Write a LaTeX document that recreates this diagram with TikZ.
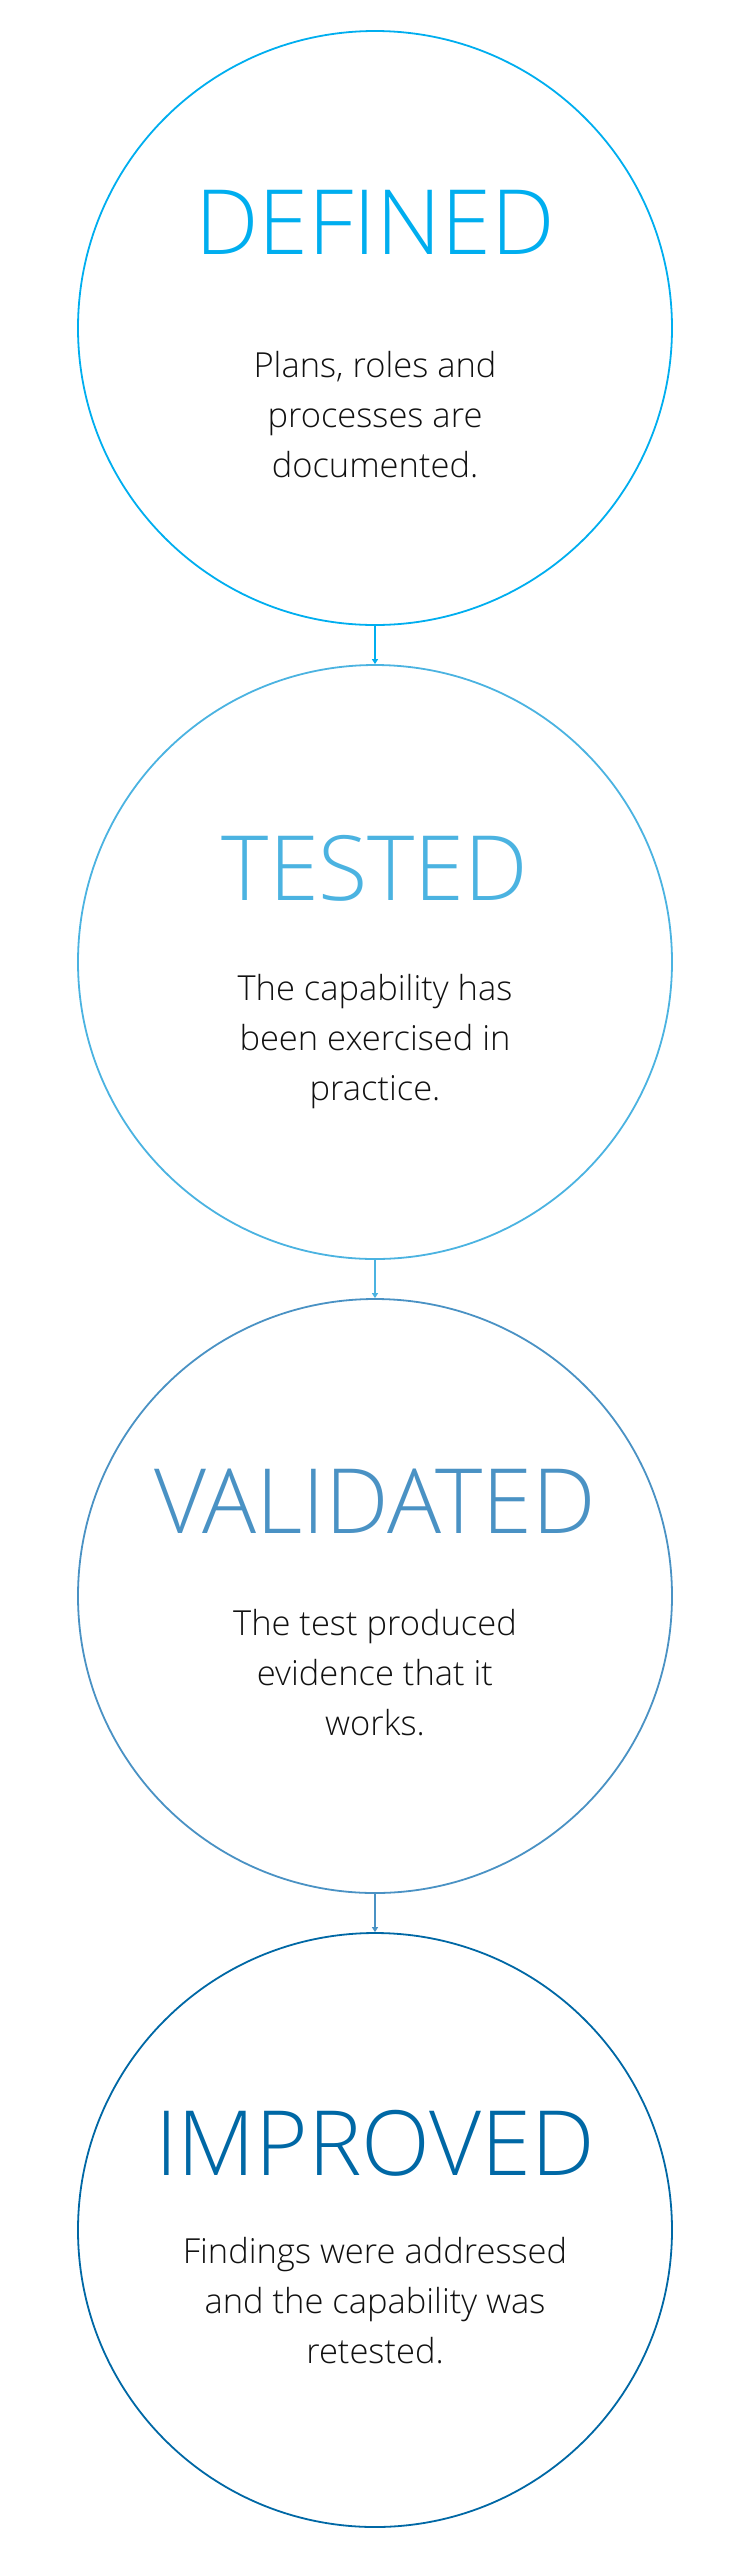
\documentclass[tikz,border=0pt]{standalone}
\usepackage{fontspec}
\setmainfont{Open Sans}[UprightFont={* Light}]
\usetikzlibrary{arrows.meta, positioning}

\definecolor{defblue}{RGB}{0,174,239}
\definecolor{testblue}{RGB}{75,179,225}
\definecolor{valblue}{RGB}{74,146,196}
\definecolor{impblue}{RGB}{0,104,165}
\definecolor{bodytext}{RGB}{17,17,17}

\begin{document}
\begin{tikzpicture}[
    x=1pt, y=-1pt,
    stage/.style={
      circle,
      minimum size=594pt,
      inner sep=0pt,
      line width=1.8pt,
      fill=white
    },
    title/.style={
      anchor=base,
      inner sep=0pt,
      font=\fontsize{90}{100}\selectfont
    },
    desc/.style={
      anchor=base,
      inner sep=0pt,
      align=center,
      text=bodytext,
      font=\fontsize{34.5}{50}\selectfont
    },
    arrow/.style={
      -{Triangle[length=5pt, width=6pt]},
      line width=1.3pt
    }
  ]

  \useasboundingbox (0,0) rectangle (751,2560);

  % Stages
  \node[stage, draw=defblue] (defined) at (375,328) {};
  \node[stage, draw=testblue] (tested) at (375,962) {};
  \node[stage, draw=valblue] (validated) at (375,1596) {};
  \node[stage, draw=impblue] (improved) at (375,2230) {};

  % Titles
  \node[title, text=defblue] (definedtitle) at ([yshift=74pt]defined.center) {DEFINED};
  \node[title, text=testblue] (testedtitle) at ([yshift=62pt]tested.center) {TESTED};
  \node[title, text=valblue] (validatedtitle) at ([yshift=63pt]validated.center) {VALIDATED};
  \node[title, text=impblue] (improvedtitle) at ([yshift=55pt]improved.center) {IMPROVED};

  % Descriptions (base = last line)
  \node[desc] (defineddesc) at ([yshift=-149pt]defined.center) {Plans, roles and\\processes are\\documented.};
  \node[desc] (testeddesc) at ([yshift=-138pt]tested.center) {The capability has\\been exercised in\\practice.};
  \node[desc] (validateddesc) at ([yshift=-139pt]validated.center) {The test produced\\evidence that it\\works.};
  \node[desc] (improveddesc) at ([yshift=-133pt]improved.center) {Findings were addressed\\and the capability was\\retested.};

  % Arrows
  \draw[arrow, defblue] (defined.south) -- (tested.north);
  \draw[arrow, testblue] (tested.south) -- (validated.north);
  \draw[arrow, valblue] (validated.south) -- (improved.north);

\end{tikzpicture}
\end{document}
